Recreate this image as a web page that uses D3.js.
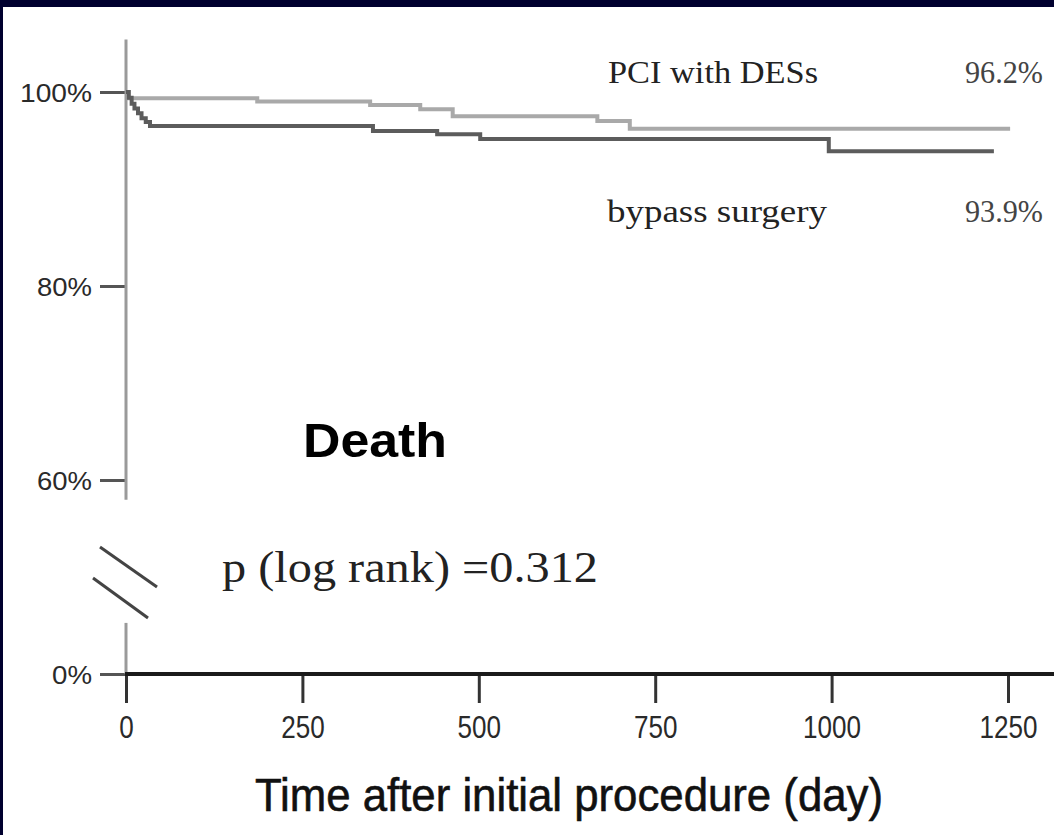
<!DOCTYPE html>
<html>
<head>
<meta charset="utf-8">
<script src="https://cdn.jsdelivr.net/npm/d3@7/dist/d3.min.js"></script>
<style>
  html, body { margin: 0; padding: 0; background: #00002f; }
  svg { display: block; }
</style>
</head>
<body>
<svg id="chart" width="1054" height="835"></svg>
<script>
// Kaplan–Meier survival (freedom from death), percent, step curves
const pciDays    = [0, 3, 186, 346, 417, 463, 668, 714, 1253];
const pciSurv    = [100, 99.35, 99.03, 98.66, 98.22, 97.49, 97.0, 96.2, 96.2];
const bypassDays = [0, 4, 8, 12, 17, 22, 28, 34, 350, 441, 502, 996, 1230];
const bypassSurv = [100, 99.4, 98.8, 98.3, 97.8, 97.3, 96.9, 96.49, 95.99, 95.65, 95.15, 93.9, 93.9];

const xTicks = [0, 250, 500, 750, 1000, 1250];
const yTicks = [0, 60, 80, 100];
const seriesNames = ["PCI with DESs", "bypass surgery"];
const finalLabels = ["96.2%", "93.9%"];
const pValueText = "p (log rank) =0.312";
const panelTitle = "Death";
const xTitle = "Time after initial procedure (day)";

const svg = d3.select("#chart");

// white panel inside the navy frame
svg.append("rect").attr("x", 3).attr("y", 7).attr("width", 1051).attr("height", 828).attr("fill", "#ffffff");

const x = d3.scaleLinear().domain([0, 1250]).range([126, 1008]);
// broken axis: 0% sits below a gap, 60–100% is the expanded section
const y = d3.scaleLinear().domain([0, 60, 100]).range([674, 480, 92]);

const sans = "'Liberation Sans', Arial, sans-serif";
const serif = "'Liberation Serif', 'Times New Roman', serif";

// ---- y axis ----
const gy = svg.append("g").attr("transform", `translate(${x(0)},0)`)
  .call(d3.axisLeft(y).tickValues(yTicks).tickSize(26).tickPadding(8).tickFormat(d => d + "%"));
gy.select(".domain").remove();
gy.selectAll(".tick line").attr("stroke", "#555").attr("stroke-width", 3);
gy.selectAll(".tick text")
  .attr("font-family", sans).attr("font-size", 26).attr("fill", "#2a2a2a")
  .attr("dy", "0.36em")
  .attr("textLength", d => d === 100 ? 72 : d === 0 ? 40 : 55)
  .attr("lengthAdjust", "spacingAndGlyphs");

const axisGrey = "#9a9a9a";
// upper section of the y axis line
svg.append("line")
  .attr("x1", x(0)).attr("x2", x(0))
  .attr("y1", y(105.4)).attr("y2", y(53.9))
  .attr("stroke", axisGrey).attr("stroke-width", 3);
// lower section below the break
svg.append("line")
  .attr("x1", x(0)).attr("x2", x(0))
  .attr("y1", y(15.8)).attr("y2", y(0))
  .attr("stroke", axisGrey).attr("stroke-width", 3);
// break marks
const breakMarks = [[100, 547, 157, 587], [93, 578, 148, 618]];
svg.selectAll(".break").data(breakMarks).enter().append("line")
  .attr("class", "break")
  .attr("x1", d => d[0]).attr("y1", d => d[1])
  .attr("x2", d => d[2]).attr("y2", d => d[3])
  .attr("stroke", "#444").attr("stroke-width", 3);

// ---- x axis ----
const gx = svg.append("g").attr("transform", `translate(0,${y(0)})`)
  .call(d3.axisBottom(x).tickValues(xTicks).tickSize(29).tickPadding(12).tickFormat(d3.format("d")));
gx.select(".domain").remove();
gx.selectAll(".tick line").attr("stroke", "#333").attr("stroke-width", 3);
gx.selectAll(".tick text")
  .attr("font-family", sans).attr("font-size", 32).attr("fill", "#2a2a2a")
  .attr("textLength", d => String(d).length * 14.5)
  .attr("lengthAdjust", "spacingAndGlyphs");
svg.append("line")
  .attr("x1", x(0) - 1).attr("x2", 1054)
  .attr("y1", y(0)).attr("y2", y(0))
  .attr("stroke", "#1a1a1a").attr("stroke-width", 4);

// ---- survival curves ----
const line = d3.line().x(d => x(d[0])).y(d => y(d[1])).curve(d3.curveStepAfter);
const pci = pciDays.map((d, i) => [d, pciSurv[i]]);
const bypass = bypassDays.map((d, i) => [d, bypassSurv[i]]);

svg.append("path").datum(pci).attr("d", line)
  .attr("fill", "none").attr("stroke", "#a9a9a9").attr("stroke-width", 4);
svg.append("path").datum(bypass).attr("d", line)
  .attr("fill", "none").attr("stroke", "#5c5c5c").attr("stroke-width", 4);

// ---- annotations ----
svg.append("text").attr("x", 608).attr("y", 83)
  .attr("font-family", serif).attr("font-size", 32).attr("fill", "#222")
  .attr("textLength", 210).attr("lengthAdjust", "spacingAndGlyphs")
  .text(seriesNames[0]);
svg.append("text").attr("x", 965).attr("y", 83)
  .attr("font-family", serif).attr("font-size", 32).attr("fill", "#444")
  .attr("textLength", 78).attr("lengthAdjust", "spacingAndGlyphs")
  .text(finalLabels[0]);
svg.append("text").attr("x", 607).attr("y", 222)
  .attr("font-family", serif).attr("font-size", 32).attr("fill", "#222")
  .attr("textLength", 220).attr("lengthAdjust", "spacingAndGlyphs")
  .text(seriesNames[1]);
svg.append("text").attr("x", 965).attr("y", 222)
  .attr("font-family", serif).attr("font-size", 32).attr("fill", "#444")
  .attr("textLength", 78).attr("lengthAdjust", "spacingAndGlyphs")
  .text(finalLabels[1]);

svg.append("text").attr("x", 303).attr("y", 457)
  .attr("font-family", sans).attr("font-weight", "bold")
  .attr("font-size", 48).attr("fill", "#000")
  .attr("textLength", 144).attr("lengthAdjust", "spacingAndGlyphs")
  .text(panelTitle);

svg.append("text").attr("x", 222).attr("y", 582)
  .attr("font-family", serif).attr("font-size", 44).attr("fill", "#222")
  .attr("textLength", 376).attr("lengthAdjust", "spacingAndGlyphs")
  .text(pValueText);

svg.append("text").attr("x", 255).attr("y", 811)
  .attr("font-family", sans).attr("font-size", 46).attr("fill", "#111")
  .attr("stroke", "#111").attr("stroke-width", 0.6)
  .attr("textLength", 628).attr("lengthAdjust", "spacingAndGlyphs")
  .text(xTitle);
</script>
</body>
</html>
